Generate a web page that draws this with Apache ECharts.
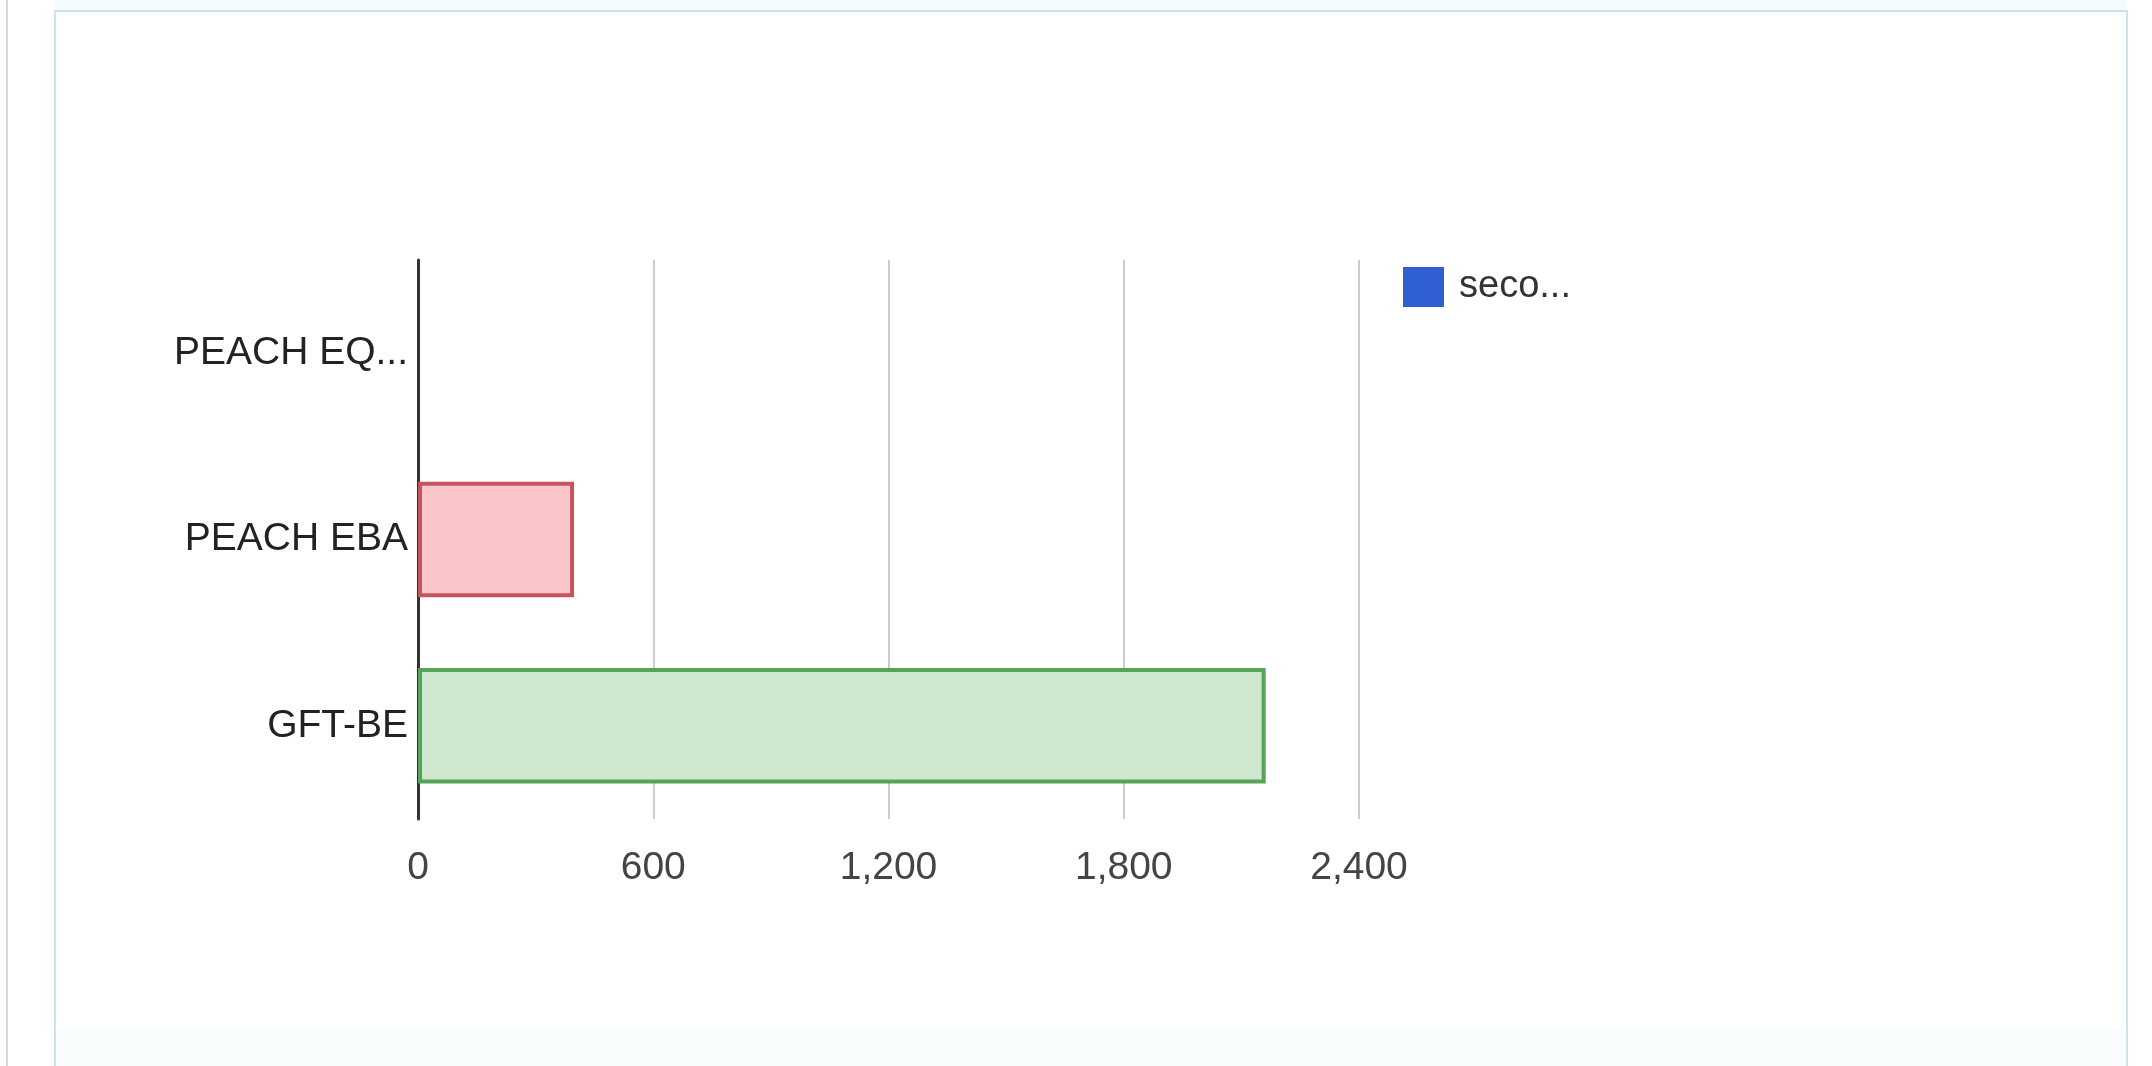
<!DOCTYPE html>
<html>
<head>
<meta charset="utf-8">
<title>Bar chart</title>
<script src="https://cdn.jsdelivr.net/npm/echarts@6/dist/echarts.min.js"></script>
<style>
  html, body { margin: 0; padding: 0; background: #ffffff; }
  #chart { width: 2152px; height: 1066px; }
</style>
</head>
<body>
<div id="chart"></div>
<script>
// Categories (top to bottom) and their values
const categories = ['PEACH EQ...', 'PEACH EBA', 'GFT-BE'];
const values = [0, 398, 2162];
const seriesName = 'seco...';

// Value-axis ticks
const tickMin = 0;
const tickMax = 2400;
const tickStep = 600;

// Per-bar styling
const barFills = ['#fbc6ca', '#fbc6ca', '#cfe6cf'];
const barBorders = ['#c7545c', '#c7545c', '#58a35a'];

const fontFamily = 'Liberation Sans, Arial, sans-serif';

const chart = echarts.init(document.getElementById('chart'), null, { renderer: 'canvas' });

const barData = values.map((v, i) => ({
  value: v,
  itemStyle: {
    color: barFills[i],
    borderColor: barBorders[i],
    borderWidth: v === 0 ? 0 : 4
  }
}));

chart.setOption({
  backgroundColor: '#ffffff',
  animation: false,
  graphic: [
    // left panel edge
    { type: 'rect', shape: { x: 6, y: 0, width: 2, height: 1066 }, style: { fill: '#d6d6d6' }, silent: true, z: -10 },
    // top tint
    { type: 'rect', shape: { x: 55, y: 0, width: 2072, height: 10 }, style: { fill: '#f3fbfd' }, silent: true, z: -10 },
    // bottom tint
    { type: 'rect', shape: { x: 56, y: 1030, width: 2070, height: 36 }, style: { fill: '#f9fdfe' }, silent: true, z: -10 },
    // chart panel border
    { type: 'rect', shape: { x: 55, y: 11, width: 2072, height: 1070 }, style: { fill: 'none', stroke: '#cfe4ea', lineWidth: 2 }, silent: true, z: -9 }
  ],
  legend: {
    left: 1398,
    top: 262,
    orient: 'vertical',
    itemWidth: 41,
    itemHeight: 40,
    icon: 'rect',
    data: [seriesName],
    textStyle: { fontFamily: fontFamily, fontSize: 38, color: '#333333', padding: [0, 0, 0, 10] },
    selectedMode: false
  },
  grid: {
    left: 418,
    top: 260,
    width: 941,
    height: 559,
    containLabel: false
  },
  xAxis: {
    type: 'value',
    min: tickMin,
    max: tickMax,
    interval: tickStep,
    axisLine: { show: false },
    axisTick: { show: false },
    splitLine: { show: true, lineStyle: { color: '#cccccc', width: 2 } },
    axisLabel: {
      margin: 30,
      fontFamily: fontFamily,
      fontSize: 39,
      color: '#444444',
      formatter: v => v.toLocaleString('en-US')
    }
  },
  yAxis: {
    type: 'category',
    inverse: true,
    data: categories,
    axisLine: { show: true, onZero: false, lineStyle: { color: '#333333', width: 3 } },
    axisTick: { show: false },
    splitLine: { show: false },
    axisLabel: {
      margin: 10,
      fontFamily: fontFamily,
      fontSize: 39,
      color: '#222222'
    }
  },
  series: [{
    name: seriesName,
    type: 'bar',
    color: '#2f5fd0',
    barCategoryGap: '38%',
    data: barData
  }]
});
</script>
</body>
</html>
